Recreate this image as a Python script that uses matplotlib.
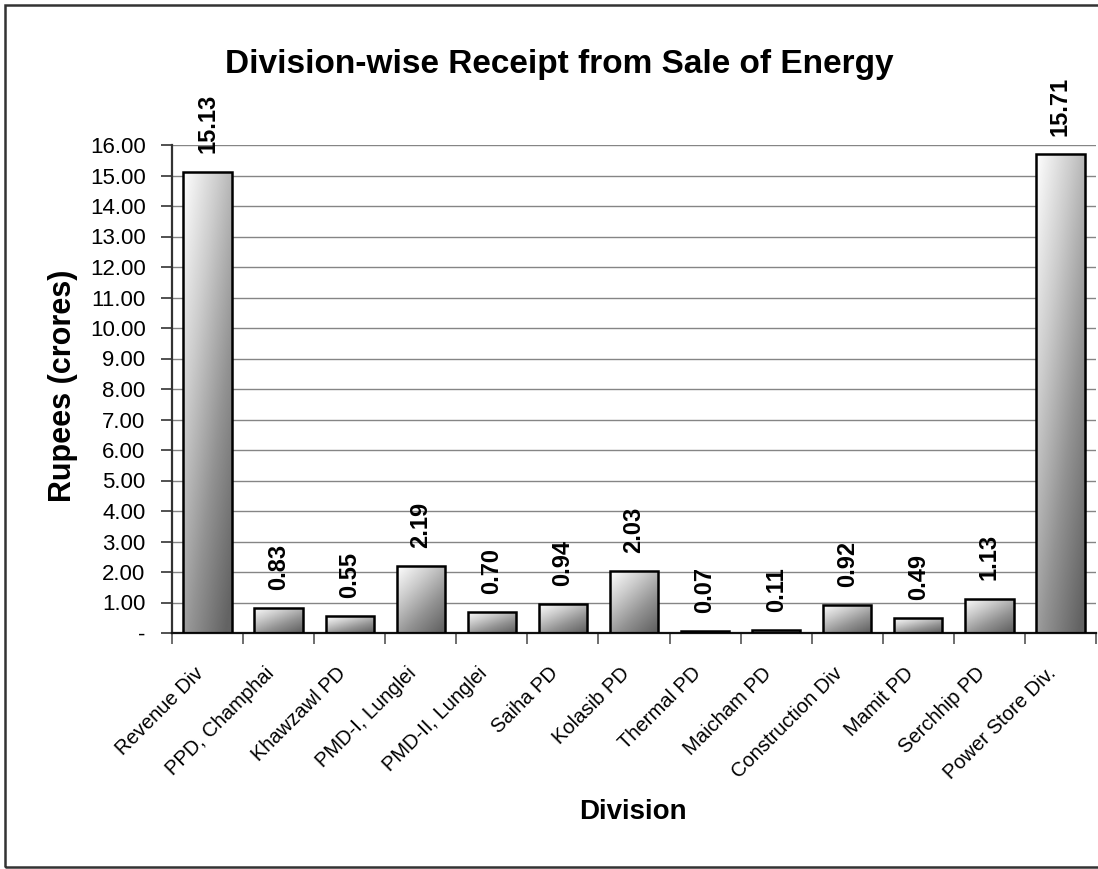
import matplotlib
matplotlib.use("Agg")

import matplotlib.pyplot as plt
import numpy as np
from matplotlib.colors import LinearSegmentedColormap
from matplotlib.patches import Rectangle
from matplotlib.ticker import FixedLocator, FuncFormatter
from matplotlib.transforms import ScaledTranslation

plt.rcParams["font.family"] = ["Liberation Sans", "DejaVu Sans"]

TITLE = "Division-wise Receipt from Sale of Energy"
X_LABEL = "Division"
Y_LABEL = "Rupees (crores)"

divisions = [
    "Revenue Div",
    "PPD, Champhai",
    "Khawzawl PD",
    "PMD-I, Lunglei",
    "PMD-II, Lunglei",
    "Saiha PD",
    "Kolasib PD",
    "Thermal PD",
    "Maicham PD",
    "Construction Div",
    "Mamit PD",
    "Serchhip PD",
    "Power Store Div.",
]
receipts = [15.13, 0.83, 0.55, 2.19, 0.70, 0.94, 2.03, 0.07, 0.11, 0.92, 0.49, 1.13, 15.71]
y_ticks = list(range(0, 17))

BAR_WIDTH = 0.68
shade_cmap = LinearSegmentedColormap.from_list(
    "bar_shade", ["#ffffff", "#cccccc", "#939393", "#636363"]
)


def tick_fmt(val, _pos):
    return "-" if abs(val) < 1e-9 else f"{val:.2f}"


def shaded_bars(ax, xs, heights):
    # diagonal light-to-dark fill, clipped to each bar outline
    u = np.linspace(0, 1, 80)
    v = np.linspace(0, 1, 300)
    uu, vv = np.meshgrid(u, v)
    shade = np.clip(0.45 * uu + 0.6 * vv, 0, 1)
    bars = ax.bar(xs, heights, width=BAR_WIDTH, facecolor="none",
                  edgecolor="black", linewidth=1.8, zorder=3)
    for x, h, bar in zip(xs, heights, bars):
        img = ax.imshow(shade, extent=(x - BAR_WIDTH / 2, x + BAR_WIDTH / 2, 0, h),
                        origin="upper", cmap=shade_cmap, vmin=0, vmax=1,
                        aspect="auto", interpolation="bilinear", zorder=2)
        img.set_clip_path(bar)
    return bars


fig = plt.figure(figsize=(10.98, 8.69), dpi=100)
ax = fig.add_axes([172 / 1098, 1 - 633 / 869, 924 / 1098, 488 / 869])

xs = np.arange(len(divisions))
bars = shaded_bars(ax, xs, receipts)

for x, val in zip(xs, receipts):
    ax.annotate(f"{val:.2f}", (x, val), xytext=(0, 13), textcoords="offset points",
                rotation=90, ha="center", va="bottom", fontsize=17,
                fontweight="bold", annotation_clip=False)

ax.set_xlim(-0.5, len(divisions) - 0.5)
ax.set_ylim(0, 16)

ax.yaxis.set_major_locator(FixedLocator(y_ticks))
ax.yaxis.set_major_formatter(FuncFormatter(tick_fmt))
ax.tick_params(axis="y", which="major", direction="out", length=8, width=1.2,
               labelsize=16, pad=11, color="#333333")

ax.set_xticks(xs)
ax.set_xticklabels(divisions, rotation=45, ha="right", rotation_mode="anchor",
                   fontsize=14.5)
ax.xaxis.set_minor_locator(FixedLocator(np.arange(-0.5, len(divisions), 1.0)))
ax.tick_params(axis="x", which="major", length=0, pad=22)
ax.tick_params(axis="x", which="minor", direction="out", length=8, width=1.2,
               color="#555555")
shift = ScaledTranslation(-14 / 100, 0, fig.dpi_scale_trans)
for lbl in ax.get_xticklabels():
    lbl.set_transform(lbl.get_transform() + shift)

ax.grid(axis="y", color="#858585", linewidth=1.0, zorder=0)
ax.set_axisbelow(True)
for side in ("top", "right"):
    ax.spines[side].set_visible(False)
ax.spines["left"].set_color("#333333")
ax.spines["left"].set_linewidth(1.6)
ax.spines["bottom"].set_color("#111111")
ax.spines["bottom"].set_linewidth(1.6)

ax.set_ylabel(Y_LABEL, fontsize=22, fontweight="bold", va="center")
ax.yaxis.set_label_coords((63 - 172) / 924, (633 - 386) / 488)
ax.set_xlabel(X_LABEL, fontsize=20, fontweight="bold")
ax.xaxis.set_label_coords((633 - 172) / 924, (633 - 812) / 488)
ax.xaxis.label.set_va("center")

fig.text(559 / 1098, 1 - 73 / 869, TITLE, ha="center", va="baseline",
         fontsize=24, fontweight="bold")

# outer chart frame
fig.add_artist(Rectangle((5 / 1098, 2 / 869), 1.2, 1 - 7 / 869,
                         transform=fig.transFigure, fill=False,
                         edgecolor="#333333", linewidth=1.8, clip_on=False))

fig.savefig("out.png", dpi=100)
